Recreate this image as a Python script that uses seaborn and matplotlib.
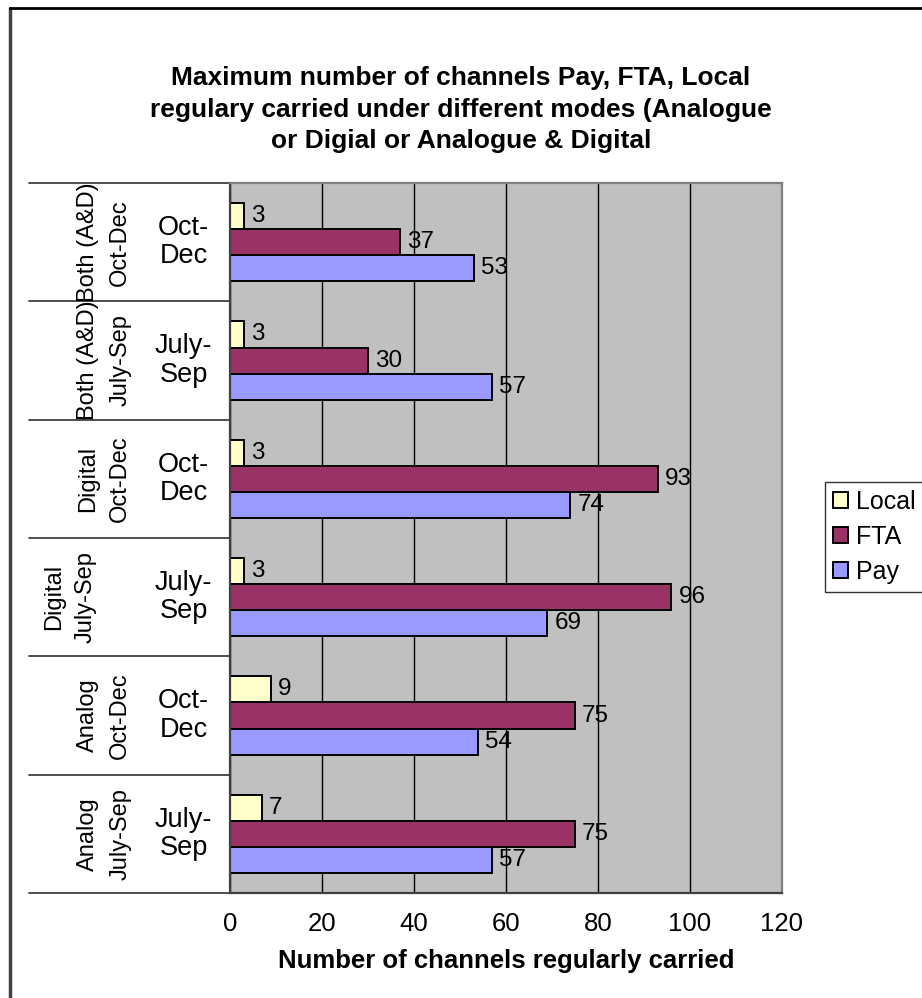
import pandas as pd
import numpy as np
import matplotlib
matplotlib.use("Agg")
import matplotlib.pyplot as plt
import matplotlib.transforms as mtransforms
import seaborn as sns

# values, bottom group first
modes = ["Analog", "Analog", "Digital", "Digital", "Both (A&D)", "Both (A&D)"]
periods = ["July-Sep", "Oct-Dec", "July-Sep", "Oct-Dec", "July-Sep", "Oct-Dec"]
local = [7, 9, 3, 3, 3, 3]
fta = [75, 75, 96, 93, 30, 37]
pay = [57, 54, 69, 74, 57, 53]

series = ["Local", "FTA", "Pay"]
colors = {"Local": "#FFFFCC", "FTA": "#993366", "Pay": "#9999FF"}
x_ticks = [0, 20, 40, 60, 80, 100, 120]

sns.set_style("white")
plt.rcParams["font.family"] = ["Liberation Sans", "DejaVu Sans"]
plt.rcParams["text.color"] = "black"
plt.rcParams["axes.labelcolor"] = "black"
plt.rcParams["xtick.color"] = "black"

groups = [f"{m}\n{p}" for m, p in zip(modes, periods)]
rows = []
for g, lo, f, pa in zip(groups, local, fta, pay):
    rows.append((g, "Local", lo))
    rows.append((g, "FTA", f))
    rows.append((g, "Pay", pa))
data = pd.DataFrame(rows, columns=["group", "type", "value"])
order = groups[::-1]  # top of the chart first

fig = plt.figure(figsize=(9.22, 9.98), dpi=100)
ax = fig.add_axes([0.2495, 0.1052, 0.5985, 0.7114])

sns.barplot(
    data=data,
    y="group",
    x="value",
    hue="type",
    order=order,
    hue_order=series,
    palette=colors,
    orient="h",
    width=0.66,
    edgecolor="black",
    linewidth=1.4,
    saturation=1,
    ax=ax,
)

ax.set_facecolor("#C0C0C0")
ax.set_xlim(0, 120)
ax.set_ylim(len(order) - 0.5, -0.5)
ax.set_xticks(x_ticks)
ax.xaxis.grid(True, color="black", linewidth=1)
ax.set_axisbelow(True)

for c in ax.containers:
    ax.bar_label(c, padding=5, fontsize=17.5, color="black")

for name, sp in ax.spines.items():
    sp.set_visible(True)
    sp.set_color("#808080")
    sp.set_linewidth(1.6)
ax.spines["left"].set_color("#404040")
ax.spines["bottom"].set_color("#404040")

ax.tick_params(axis="x", direction="out", length=6, width=1, color="#404040",
               labelcolor="black", labelsize=18.5, pad=8)
ax.set_yticks([])
ax.set_ylabel("")
ax.set_xlabel("Number of channels regularly carried", fontsize=18.5,
              fontweight="bold", labelpad=9, color="black")

# two level category labels with separators
trans = mtransforms.blended_transform_factory(ax.transAxes, ax.transData)
for i, g in enumerate(order):
    m, p = g.split("\n")
    ax.text(-0.084, i, p.replace("-", "-\n"), transform=trans, ha="center",
            va="center", fontsize=19.5, linespacing=1.12, color="black")
    # the Digital July-Sep label sits further left in the original
    ox = -0.29 if g == "Digital\nJuly-Sep" else -0.228
    ax.text(ox, i, f"{m}\n{p}", transform=trans, ha="center", va="center",
            rotation=90, fontsize=17, linespacing=1.6, color="black")
for b in np.arange(len(order) + 1) - 0.5:
    ax.plot([-0.364, 0], [b, b], transform=trans, color="#404040",
            linewidth=1.3, clip_on=False)

leg = ax.legend(loc="center left", bbox_to_anchor=(0.895, 0.462),
                bbox_transform=fig.transFigure, frameon=True,
                fontsize=18, handlelength=0.6, handleheight=0.6,
                handletextpad=0.35, borderpad=0.3, labelspacing=0.45,
                borderaxespad=0, fancybox=False, edgecolor="black")
leg.get_frame().set_linewidth(1)
for t in leg.get_texts():
    t.set_color("black")

fig.text(0.5, 0.89,
         "Maximum number of channels Pay, FTA, Local\n"
         "regulary carried under different modes (Analogue\n"
         "or Digial or Analogue & Digital",
         ha="center", va="center", fontsize=19, fontweight="bold",
         linespacing=1.4, color="black")

# chart frame: only the left and top edges are inside the picture
fig.add_artist(plt.Line2D([0.011, 0.011], [0, 0.992], transform=fig.transFigure,
                          color="#404040", linewidth=2.5))
fig.add_artist(plt.Line2D([0.011, 1], [0.992, 0.992], transform=fig.transFigure,
                          color="black", linewidth=2))

fig.savefig("out.png", dpi=100)
